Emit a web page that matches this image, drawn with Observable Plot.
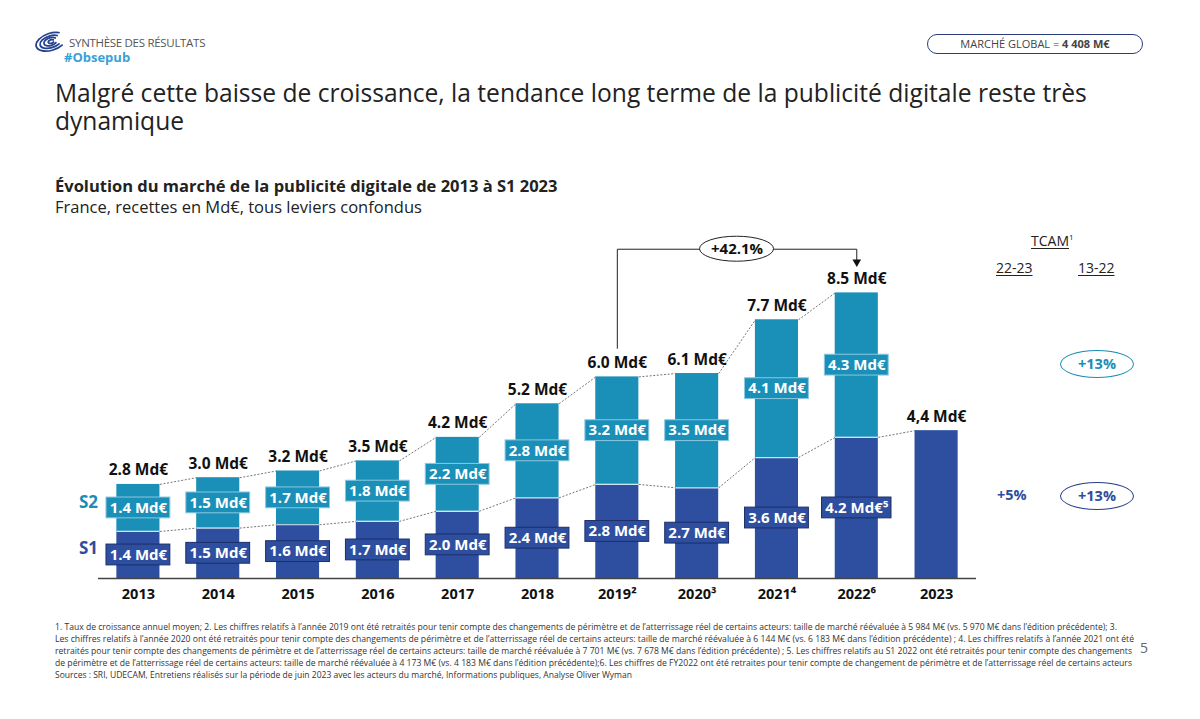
<!DOCTYPE html>
<html>
<head>
<meta charset="utf-8">
<script src="https://cdn.jsdelivr.net/npm/d3@7"></script>
<script src="https://cdn.jsdelivr.net/npm/@observablehq/plot@0.6"></script>
<style>
  html, body { margin: 0; padding: 0; background: #fff; }
  #page { position: relative; width: 1200px; height: 719px; overflow: hidden; font-family: "Open Sans", sans-serif; color: #222; }
  .abs { position: absolute; white-space: nowrap; }
  #chart { position: absolute; left: 0; top: 0; }
  .ul { text-decoration: underline; text-underline-offset: 2px; }
</style>
</head>
<body>
<div id="page">
  <div id="chart"></div>

  <!-- header -->
  <svg class="abs" style="left:29px;top:30px" width="34" height="23" viewBox="0 0 40 26">
    <g fill="none" stroke="#24418f" stroke-width="2.1" stroke-linecap="round" transform="rotate(-18 26 13)">
      <path d="M38 6 A18 10 0 1 0 37 21"/>
      <path d="M35 8.5 A13 7 0 1 0 34 18.5"/>
      <path d="M32 10.5 A8 4.5 0 1 0 31 16"/>
      <path d="M29 12 A3.5 2 0 1 0 28.5 14.5"/>
    </g>
  </svg>
  <div class="abs" style="left:69px;top:35px;font-size:11.5px;line-height:16px;color:#555;letter-spacing:-0.3px">SYNTHÈSE DES RÉSULTATS</div>
  <div class="abs" style="left:64px;top:49px;font-size:13px;line-height:16px;font-weight:700;color:#3a9fd6">#Obsepub</div>
  <div class="abs" style="left:927px;top:34px;width:214px;height:18px;border:1.5px solid #2b3d7a;border-radius:10px;text-align:center;font-size:11px;line-height:18px;color:#444">MARCHÉ GLOBAL = <b>4 408 M€</b></div>

  <!-- title -->
  <div class="abs" style="left:55px;top:81px;font-size:24.6px;line-height:24px;color:#222">Malgré cette baisse de croissance, la tendance long terme de la publicité digitale reste très</div>
  <div class="abs" style="left:55px;top:109px;font-size:24.6px;line-height:24px;color:#222">dynamique</div>
  <div class="abs" style="left:55px;top:176px;font-size:16.5px;line-height:20px;font-weight:700;color:#222">Évolution du marché de la publicité digitale de 2013 à S1 2023</div>
  <div class="abs" style="left:55px;top:197px;font-size:16.5px;line-height:20px;color:#222">France, recettes en Md€, tous leviers confondus</div>

  <!-- series labels -->
  <div class="abs" style="left:79px;top:491px;font-size:17px;line-height:22px;font-weight:700;color:#1a8db5">S2</div>
  <div class="abs" style="left:79px;top:537px;font-size:17px;line-height:22px;font-weight:700;color:#2e4c9c">S1</div>

  <!-- TCAM -->
  <div class="abs" style="left:1031px;top:228px;font-size:14px;line-height:18px;color:#222"><span class="ul">TCAM</span><sup style="font-size:8px">1</sup></div>
  <div class="abs ul" style="left:996px;top:259px;font-size:14px;line-height:18px;color:#222">22-23</div>
  <div class="abs ul" style="left:1078px;top:259px;font-size:14px;line-height:18px;color:#222">13-22</div>
  <div class="abs" style="left:1060px;top:350px;width:72px;height:26px;border:1.5px solid #1a8db5;border-radius:50%;text-align:center;line-height:26px;font-size:14.5px;font-weight:700;color:#1a8db5">+13%</div>
  <div class="abs" style="left:997px;top:485px;font-size:14.5px;line-height:20px;font-weight:700;color:#2e4c9c">+5%</div>
  <div class="abs" style="left:1060px;top:482px;width:72px;height:26px;border:1.5px solid #2b3d8a;border-radius:50%;text-align:center;line-height:26px;font-size:14.5px;font-weight:700;color:#2e4c9c">+13%</div>

  <!-- footnotes -->
  <svg class="abs" style="left:0;top:615px" width="1200" height="75" id="notes"></svg>
</div>

<script>
// ---------- data ----------
const years = ["2013","2014","2015","2016","2017","2018","2019","2020","2021","2022","2023"];
const yearLabels = ["2013","2014","2015","2016","2017","2018","2019²","2020³","2021⁴","2022⁶","2023"];
const s1Values = [1.4, 1.5, 1.6, 1.7, 2.0, 2.4, 2.8, 2.7, 3.6, 4.2, 4.4];
const s2Values = [1.4, 1.5, 1.7, 1.8, 2.2, 2.8, 3.2, 3.5, 4.1, 4.3, null];
const totalValues = [2.8, 3.0, 3.2, 3.5, 4.2, 5.2, 6.0, 6.1, 7.7, 8.5, 4.4];
const totalLabels = ["2.8 Md€","3.0 Md€","3.2 Md€","3.5 Md€","4.2 Md€","5.2 Md€","6.0 Md€","6.1 Md€","7.7 Md€","8.5 Md€","4,4 Md€"];
const s1Labels = ["1.4 Md€","1.5 Md€","1.6 Md€","1.7 Md€","2.0 Md€","2.4 Md€","2.8 Md€","2.7 Md€","3.6 Md€","4.2 Md€⁵",null];
const s2Labels = ["1.4 Md€","1.5 Md€","1.7 Md€","1.8 Md€","2.2 Md€","2.8 Md€","3.2 Md€","3.5 Md€","4.1 Md€","4.3 Md€",null];
const growthLabel = "+42.1%";
const growthFrom = "2019", growthTo = "2022";

const footnotes = [
  "1. Taux de croissance annuel moyen; 2. Les chiffres relatifs à l’année 2019 ont été retraités pour tenir compte des changements de périmètre et de l’atterrissage réel de certains acteurs: taille de marché réévaluée à 5 984 M€ (vs. 5 970 M€ dans l’édition précédente); 3.",
  "Les chiffres relatifs à l’année 2020 ont été retraités pour tenir compte des changements de périmètre et de l’atterrissage réel de certains acteurs: taille de marché réévaluée à 6 144 M€ (vs. 6 183 M€ dans l’édition précédente) ; 4. Les chiffres relatifs à l’année 2021 ont été",
  "retraités pour tenir compte des changements de périmètre et de l’atterrissage réel de certains acteurs: taille de marché réévaluée à 7 701 M€ (vs. 7 678 M€ dans l’édition précédente) ; 5. Les chiffres relatifs au S1 2022 ont été retraités pour tenir compte des changements",
  "de périmètre et de l’atterrissage réel de certains acteurs: taille de marché réévaluée à 4 173 M€ (vs. 4 183 M€ dans l’édition précédente);6. Les chiffres de FY2022 ont été retraites pour tenir compte de changement de périmètre et de l’atterrissage réel de certains acteurs",
  "Sources : SRI, UDECAM, Entretiens réalisés sur la période de juin 2023 avec les acteurs du marché, Informations publiques, Analyse Oliver Wyman"
];
const footnoteWidths = [1062, 1079, 1077, 1077, 577];
const pageNumber = "5";

// ---------- build table ----------
const C1 = "#2e4f9f", C2 = "#1a8fb8";
const rows = years.map((y, i) => ({
  i, year: y, label: yearLabels[i],
  s1: s1Values[i], s2: s2Values[i], total: totalValues[i],
  totalLabel: totalLabels[i], s1Label: s1Labels[i], s2Label: s2Labels[i]
}));
const stacked = rows.filter(d => d.s2 != null);
const half = 0.27;      // bar half-width in index units
const boxHalf = 0.4;    // label box half-width
const boxH = 0.31;      // label box half-height (value units)

// connectors between consecutive bars
const totalLinks = stacked.slice(0, -1).map((d, k) => ({x1: d.i + half, y1: d.total, x2: stacked[k+1].i - half, y2: stacked[k+1].total}));
const s1Links = rows.slice(0, -1).map((d, k) => ({x1: d.i + half, y1: d.s1, x2: rows[k+1].i - half, y2: rows[k+1].s1}));

const iFrom = years.indexOf(growthFrom), iTo = years.indexOf(growthTo);
const bracketTop = d3.max(totalValues) + 1.3;
const bracket = [
  {x: iFrom, y: totalValues[iFrom] + 0.85},
  {x: iFrom, y: bracketTop},
  {x: iTo, y: bracketTop},
  {x: iTo, y: totalValues[iTo] + 0.95}
];
const midX = (iFrom + iTo) / 2;

const s1Mid = d => d.s1 / 2;
const s2Mid = d => (d.s1 + d.total) / 2;
const normalS1 = rows.filter(d => d.s1Label && !d.s1Label.includes("⁵"));
const wideS1 = rows.filter(d => d.s1Label && d.s1Label.includes("⁵"));

function ellipseMark(cx, cy, rx, ry) {
  return (index, scales) => {
    const e = document.createElementNS("http://www.w3.org/2000/svg", "ellipse");
    e.setAttribute("cx", scales.x(cx));
    e.setAttribute("cy", scales.y(cy));
    e.setAttribute("rx", rx);
    e.setAttribute("ry", ry);
    e.setAttribute("fill", "white");
    e.setAttribute("stroke", "#222");
    e.setAttribute("stroke-width", 1);
    return e;
  };
}

const plot = Plot.plot({
  width: 1200,
  height: 719,
  marginLeft: 98,
  marginRight: 224,
  marginTop: 174.8,
  marginBottom: 141,
  style: {fontFamily: "Open Sans, sans-serif", background: "transparent", overflow: "visible"},
  x: {type: "linear", domain: [-0.5, 10.5], axis: null},
  y: {domain: [0, 12], axis: null},
  marks: [
    // bars
    Plot.rectY(rows, {x1: d => d.i - half, x2: d => d.i + half, y1: 0, y2: "s1", fill: C1}),
    Plot.rectY(stacked, {x1: d => d.i - half, x2: d => d.i + half, y1: "s1", y2: "total", fill: C2}),
    Plot.ruleY(stacked, {x1: d => d.i - half, x2: d => d.i + half, y: "s1", stroke: "#cfe3f3", strokeWidth: 1.2}),
    // dotted connectors
    Plot.link(totalLinks, {x1: "x1", y1: "y1", x2: "x2", y2: "y2", stroke: "#777", strokeWidth: 1, strokeDasharray: "2,1.6"}),
    Plot.link(s1Links, {x1: "x1", y1: "y1", x2: "x2", y2: "y2", stroke: "#777", strokeWidth: 1, strokeDasharray: "2,1.6"}),
    // label boxes
    Plot.rect(normalS1, {x1: d => d.i - boxHalf, x2: d => d.i + boxHalf, y1: d => s1Mid(d) - boxH, y2: d => s1Mid(d) + boxH, fill: C1, stroke: "#1d2d6b", strokeWidth: 1}),
    Plot.rect(wideS1, {x1: d => d.i - boxHalf - 0.035, x2: d => d.i + boxHalf + 0.035, y1: d => s1Mid(d) - boxH, y2: d => s1Mid(d) + boxH, fill: C1, stroke: "#1d2d6b", strokeWidth: 1}),
    Plot.rect(stacked, {x1: d => d.i - boxHalf, x2: d => d.i + boxHalf, y1: d => s2Mid(d) - boxH, y2: d => s2Mid(d) + boxH, fill: C2, stroke: "#8cc8e0", strokeWidth: 1}),
    Plot.text(rows.filter(d => d.s1Label), {x: "i", y: s1Mid, text: "s1Label", fill: "white", fontSize: 15, fontWeight: 700}),
    Plot.text(stacked, {x: "i", y: s2Mid, text: "s2Label", fill: "white", fontSize: 15, fontWeight: 700}),
    // totals
    Plot.text(rows, {x: "i", y: "total", text: "totalLabel", dy: -14, fill: "#111", fontSize: 15.5, fontWeight: 700}),
    // axis
    Plot.ruleY([0], {stroke: "#444", strokeWidth: 1.3}),
    Plot.text(rows, {x: "i", y: 0, text: "label", dy: 16, fill: "#111", fontSize: 14.5, fontWeight: 700}),
    // growth bracket
    Plot.line(bracket, {x: "x", y: "y", stroke: "#222", strokeWidth: 1}),
    Plot.dot([bracket[3]], {x: "x", y: "y", symbol: "triangle", rotate: 180, r: 3.2, fill: "#111", stroke: null, dy: 1}),
    ellipseMark(midX, bracketTop, 37, 12.5),
    Plot.text([{x: midX, y: bracketTop}], {x: "x", y: "y", text: () => growthLabel, fill: "#111", fontSize: 15, fontWeight: 700})
  ]
});
document.getElementById("chart").appendChild(plot);

// footnotes
const notes = d3.select("#notes");
footnotes.forEach((t, k) => {
  notes.append("text")
    .attr("x", 55).attr("y", 15 + k * 12.1)
    .attr("font-size", 8.6).attr("fill", "#333")
    .attr("font-family", "Open Sans, sans-serif")
    .attr("textLength", footnoteWidths[k]).attr("lengthAdjust", "spacingAndGlyphs")
    .text(t);
});
notes.append("text").attr("x", 1140).attr("y", 38).attr("font-size", 14).attr("fill", "#666")
  .attr("font-family", "Open Sans, sans-serif").text(pageNumber);
</script>
</body>
</html>
